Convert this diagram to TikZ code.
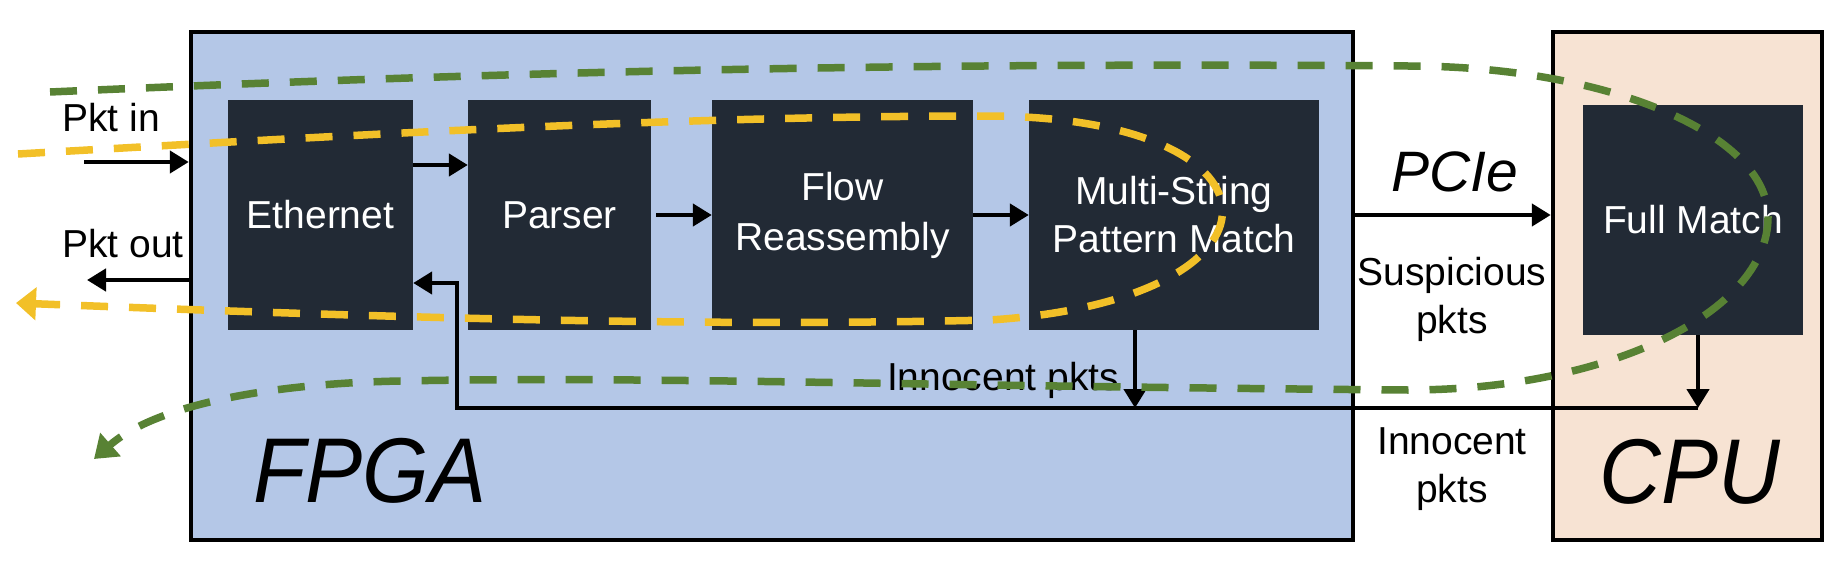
\documentclass[tikz,border=0pt]{standalone}
\usepackage{fontspec}
\setmainfont{Liberation Sans}
\newfontfamily\bigfont[FakeStretch=0.93]{Liberation Sans}
\usetikzlibrary{arrows.meta}
\definecolor{fpgabg}{RGB}{180,199,231}
\definecolor{cpubg}{RGB}{247,227,211}
\definecolor{stagebg}{RGB}{34,42,53}
\definecolor{ylw}{RGB}{242,192,40}
\definecolor{grn}{RGB}{88,130,52}
\begin{document}
\begin{tikzpicture}[x=1pt,y=-1pt,
  region/.style={draw=black, line width=4.5pt, inner sep=0pt},
  stage/.style={fill=stagebg, text=white, inner sep=0pt, align=center,
    font=\fontsize{39pt}{48pt}\selectfont},
  lbl/.style={font=\fontsize{39pt}{48pt}\selectfont, align=center, inner sep=0pt},
  big/.style={font=\bigfont\itshape\fontsize{92pt}{92pt}\selectfont, inner sep=0pt},
  arr/.style={line width=4.5pt, line join=miter, -{Triangle[length=19pt,width=22pt]}},
  flowy/.style={draw=ylw, line width=7.5pt, dash pattern=on 27pt off 21pt},
  flowg/.style={draw=grn, line width=7.5pt, dash pattern=on 27pt off 21pt},
]
\useasboundingbox (0,0) rectangle (1842,570);

% regions
\node[region, fill=fpgabg, minimum width=1162pt, minimum height=508pt] (fpga) at (772,286) {};
\node[region, fill=cpubg, minimum width=269pt, minimum height=508pt] (cpu) at (1687.5,286) {};

% stages
\node[stage, minimum width=185pt, minimum height=230pt] (eth) at (320.5,215) {Ethernet};
\node[stage, minimum width=183pt, minimum height=230pt] (parser) at (559.5,215) {Parser};
\node[stage, minimum width=261pt, minimum height=230pt] (flow) at (842.5,215) {Flow\\[2pt]Reassembly};
\node[stage, minimum width=290pt, minimum height=230pt] (multi) at (1174,215) {Multi-String\\Pattern Match};
\node[stage, minimum width=220pt, minimum height=230pt] (fm) at (1693,220) {Full Match};

% connectors
\coordinate (pin) at (84,162);
\coordinate (pout) at (87,280);
\coordinate (j1) at (1135,408);
\coordinate (j2) at (1698,408);
\coordinate (j3) at (457,408);
\draw[arr] (pin) -- (pin -| fpga.west);
\draw[arr] (pout -| fpga.west) -- (pout);
\draw[arr] (eth.east |- 0,165) -- (parser.west |- 0,165);
\draw[arr] ([xshift=5pt]parser.east) -- (flow.west);
\draw[arr] (flow.east) -- (multi.west);
\draw[arr] (multi.east -| fpga.east) -- (cpu.west |- multi.east);
\draw[arr] (j1 |- multi.south) -- (j1);
\draw[arr] (j2 |- fm.south) -- (j2);
\draw[arr] (j2) -- (j3) |- (eth.east |- 0,283);

% labels
\node[lbl, anchor=base] (lin) at (111,131) {Pkt in};
\node[lbl, anchor=base] (lout) at (123,257) {Pkt out};
\node[anchor=base, inner sep=0pt, font=\itshape\fontsize{57pt}{57pt}\selectfont] (lpcie) at (1455,191) {PCIe};
\node[lbl] (lsus) at (1452,299) {Suspicious\\pkts};
\node[lbl] (linn) at (1452,469) {Innocent\\pkts};
\node[lbl, anchor=base] (linn2) at (1003,390) {Innocent pkts};
\node[big, anchor=base] (lfpga) at (370,502) {FPGA};
\node[big, anchor=base] (lcpu) at (1690,503) {CPU};

% dashed flows
\draw[flowy, -{Triangle[length=20pt,width=32pt]}]
  (18,154) .. controls (400,132) and (700,116) .. (990,116)
  .. controls (1300,118) and (1300,300) .. (990,320)
  .. controls (700,327) and (400,318) .. (16,303);
\draw[flowg, -{Triangle[length=22pt,width=30pt]}]
  (50,92) .. controls (500,72) and (900,62) .. (1408,66)
  .. controls (1607,66) and (1768,134) .. (1768,217)
  .. controls (1768,313) and (1607,390) .. (1408,390)
  .. controls (900,386) and (650,376) .. (400,381)
  .. controls (250,384) and (150,410) .. (94,459);
\end{tikzpicture}
\end{document}
